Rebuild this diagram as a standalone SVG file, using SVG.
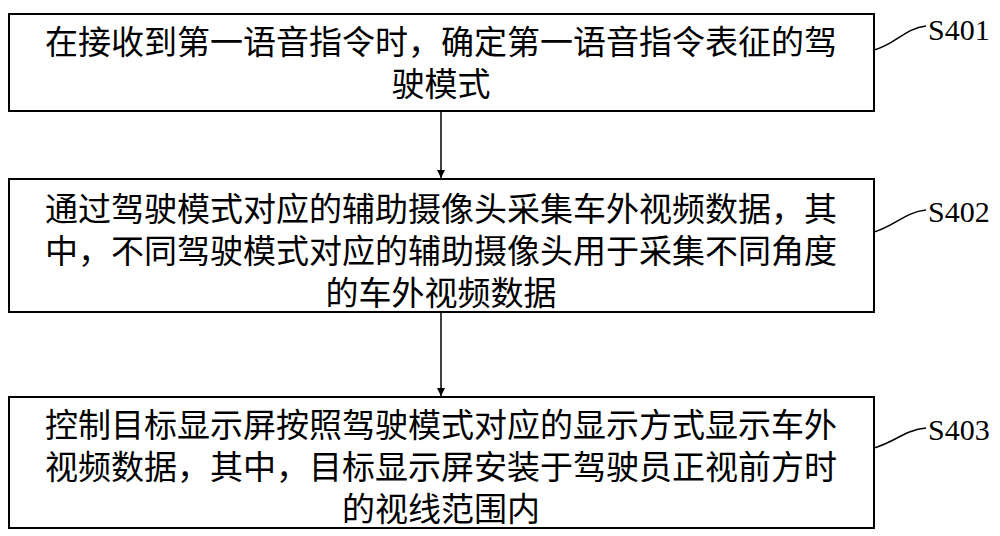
<svg xmlns="http://www.w3.org/2000/svg" width="1000" height="536" viewBox="0 0 1000 536">
<style>
.box{fill:#fff;stroke:#000;stroke-width:2}
.t{font-family:"Noto Sans CJK SC","Liberation Serif",serif;font-size:33px;text-anchor:middle;fill:#000}
.l{font-family:"Liberation Serif",serif;font-size:30px;fill:#000}
.c{fill:none;stroke:#000;stroke-width:1.5}
</style>
<defs><marker id="a" viewBox="0 0 10 10" refX="10" refY="5" markerWidth="8" markerHeight="10" orient="auto" markerUnits="userSpaceOnUse"><path d="M0,0L10,5L0,10z" fill="#000"/></marker></defs>
<rect width="1000" height="536" fill="#fff"/>
<g id="n1"><rect class="box" x="9" y="14" width="865" height="97"/>
<text class="t" x="441" y="54">在接收到第一语音指令时，确定第一语音指令表征的驾</text>
<text class="t" x="441" y="96">驶模式</text></g>
<g id="n2"><rect class="box" x="9" y="179" width="865" height="133"/>
<text class="t" x="441" y="221">通过驾驶模式对应的辅助摄像头采集车外视频数据，其</text>
<text class="t" x="441" y="263">中，不同驾驶模式对应的辅助摄像头用于采集不同角度</text>
<text class="t" x="441" y="305">的车外视频数据</text></g>
<g id="n3"><rect class="box" x="9" y="397" width="865" height="131"/>
<text class="t" x="441" y="437">控制目标显示屏按照驾驶模式对应的显示方式显示车外</text>
<text class="t" x="441" y="479">视频数据，其中，目标显示屏安装于驾驶员正视前方时</text>
<text class="t" x="441" y="521">的视线范围内</text></g>
<g id="labels">
<text class="l" x="928" y="40">S401</text>
<text class="l" x="928" y="222">S402</text>
<text class="l" x="928" y="440">S403</text></g>
<g id="connectors">
<line class="c" x1="441" y1="111" x2="441" y2="178" marker-end="url(#a)"/>
<line class="c" x1="441" y1="312" x2="441" y2="396" marker-end="url(#a)"/>
<path class="c" d="M874,50 C895,45 905,28 926,26"/>
<path class="c" d="M874,232 C895,226 905,212 926,210"/>
<path class="c" d="M874,448 C895,442 905,430 926,428"/>
</g>
</svg>
